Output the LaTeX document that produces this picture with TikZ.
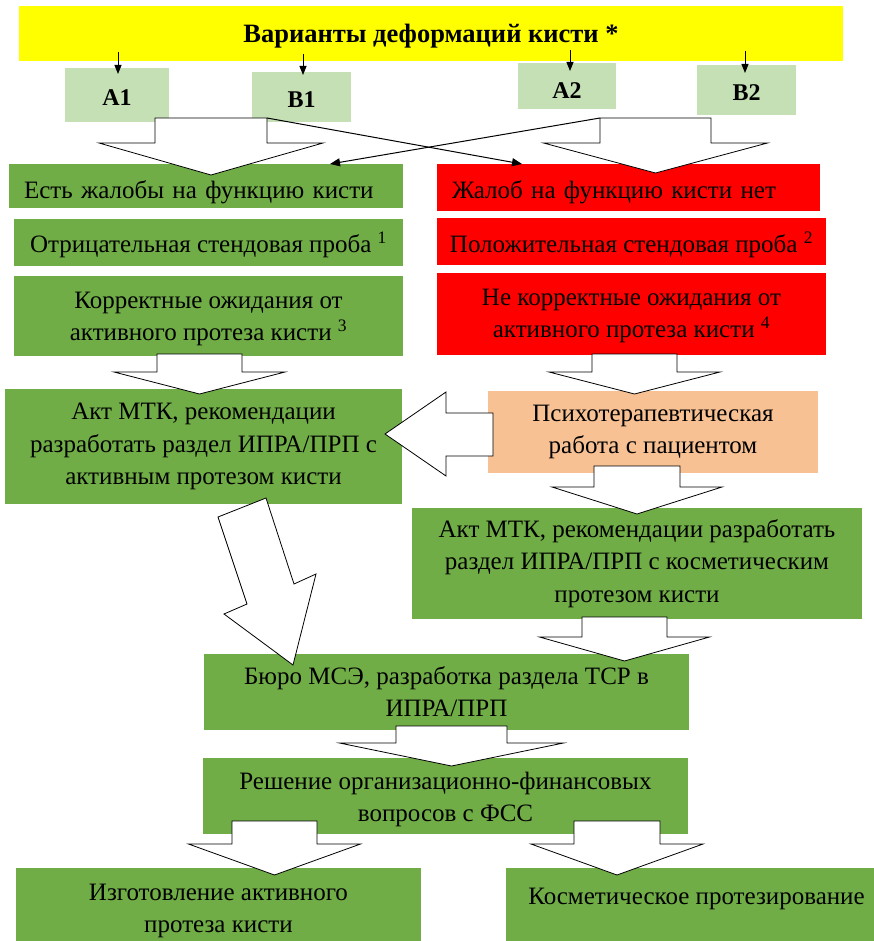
\documentclass[tikz,border=0pt]{standalone}
\usepackage{fontspec}
\setmainfont{Liberation Serif}
\usetikzlibrary{arrows.meta}
\definecolor{ogreen}{HTML}{70AD47}
\definecolor{lgreen}{HTML}{C5E0B4}
\definecolor{ored}{HTML}{FF0000}
\definecolor{peach}{HTML}{F8C193}
\definecolor{yel}{HTML}{FFFF00}
\newcommand{\BlkDown}[6]{\draw[blk] ({#1-#5},#2) -- ({#1+#5},#2) -- ({#1+#5},#3) -- ({#1+#6},#3) -- (#1,#4) -- ({#1-#6},#3) -- ({#1-#5},#3) -- cycle;}
\newcommand{\Lowr}[2]{\raisebox{-#1}[\height][\depth]{#2}}
\begin{document}
\begin{tikzpicture}[x=1pt,y=-1pt,
  box/.style={rectangle, inner sep=0pt, outer sep=0pt, align=center,
    font=\fontsize{25}{32.5}\selectfont},
  lbox/.style={box, align=left, inner xsep=15pt},
  sbox/.style={box, fill=lgreen, font=\bfseries\fontsize{24}{28}\selectfont},
  blk/.style={draw=black, fill=white, line width=0.8pt, line join=miter},
  conn/.style={draw=black, line width=1pt, -{Triangle[length=10pt,width=8pt]}},
  small/.style={draw=black, line width=1pt, -{Triangle[length=9pt,width=7pt]}}]
\useasboundingbox (0,0) rectangle (873,941);

% title banner
\node[box, fill=yel, minimum width=824, minimum height=55,
  font=\bfseries\fontsize{26.5}{30}\selectfont] (title) at (431,33.5) {\Lowr{3pt}{Варианты деформаций кисти *}};

% variant boxes
\node[sbox, minimum width=104, minimum height=54] (A1) at (117,95) {\Lowr{3pt}{A1}};
\node[sbox, minimum width=99, minimum height=50] (B1) at (301.5,97) {\Lowr{3pt}{B1}};
\node[sbox, minimum width=98, minimum height=46] (A2) at (567,86) {\Lowr{5pt}{A2}};
\node[sbox, minimum width=99, minimum height=50] (B2) at (746.5,90) {\Lowr{3pt}{B2}};

% left column
\node[lbox, fill=ogreen, text width=364, minimum height=44] (g1) at (206,186) {\Lowr{6pt}{Есть жалобы на функцию кисти}};
\node[box, fill=ogreen, minimum width=389, minimum height=47] (g2) at (208.5,242.5) {\Lowr{2pt}{Отрицательная стендовая проба \textsuperscript{1}}};
\node[box, fill=ogreen, minimum width=389, minimum height=80] (g3) at (208.5,316) {\Lowr{2pt}{\begin{tabular}{@{}c@{}}Корректные ожидания от\\активного протеза кисти \textsuperscript{3}\end{tabular}}};
\node[box, fill=ogreen, minimum width=397, minimum height=115] (akt1) at (203.5,446.5) {Акт МТК, рекомендации\\разработать раздел ИПРА/ПРП с\\активным протезом кисти};

% right column
\node[lbox, fill=ored, text width=353, minimum height=47] (r1) at (628.5,187.5) {\Lowr{5pt}{Жалоб на функцию кисти нет}};
\node[box, fill=ored, minimum width=389, minimum height=47] (r2) at (631.5,241.5) {\Lowr{3pt}{Положительная стендовая проба \textsuperscript{2}}};
\node[box, fill=ored, minimum width=389, minimum height=82] (r3) at (631.5,314) {\Lowr{1pt}{\begin{tabular}{@{}c@{}}Не корректные ожидания от\\активного протеза кисти \textsuperscript{4}\end{tabular}}};
\node[box, fill=peach, minimum width=330, minimum height=82] (psy) at (653,432) {Психотерапевтическая\\работа с пациентом};
\node[box, fill=ogreen, minimum width=450, minimum height=111] (akt2) at (637,563.5) {Акт МТК, рекомендации разработать\\раздел ИПРА/ПРП с косметическим\\протезом кисти};

% lower part
\node[box, fill=ogreen, minimum width=485, minimum height=76] (mse) at (446.5,692) {\Lowr{2pt}{\begin{tabular}{@{}c@{}}Бюро МСЭ, разработка раздела ТСР в\\ИПРА/ПРП\end{tabular}}};
\node[box, fill=ogreen, minimum width=485, minimum height=76] (fss) at (445.5,796) {\Lowr{3pt}{\begin{tabular}{@{}c@{}}Решение организационно-финансовых\\вопросов с ФСС\end{tabular}}};
\node[box, fill=ogreen, minimum width=405, minimum height=86] (act) at (218.5,911) {Изготовление активного\\протеза кисти};
\node[box, fill=ogreen, minimum width=381, minimum height=86] (cos) at (696.5,911) {\raisebox{12pt}[\height][\depth]{Косметическое протезирование}};

% block arrows
\BlkDown{211}{118}{143}{175}{56}{112}
\BlkDown{655.5}{118}{143}{173}{55.5}{112}
\BlkDown{199.5}{354}{372}{394}{42.5}{85.5}
\BlkDown{634.5}{354}{372}{394}{42.5}{85.5}
\BlkDown{637}{466}{487}{514}{43}{85}
\BlkDown{624.5}{617}{637}{661}{42.5}{85}
\BlkDown{451.5}{726}{743}{766}{55.5}{112}
\BlkDown{274.5}{821}{844}{875}{42.5}{86}
\BlkDown{617}{821}{844}{875}{43}{86}
\draw[blk] (385,434) -- (446,392) -- (446,413) -- (493,413) -- (493,456) -- (446,456) -- (446,476) -- cycle;
\draw[blk] (218,517) -- (266,498) -- (294,584) -- (316,574) -- (293,665) -- (224,614) -- (247,604) -- cycle;

% crossing connectors
\coordinate (c1s) at (267,118);
\coordinate (c1e) at (522,164);
\coordinate (c2s) at (600,118);
\coordinate (c2e) at (330,164);
\draw[conn] (c1s) -- (c1e);
\draw[conn] (c2s) -- (c2e);

% small arrows from the banner
\coordinate (sA1) at (118,52);
\coordinate (eA1) at (118,74);
\coordinate (sB1) at (303,54);
\coordinate (eB1) at (303,75);
\coordinate (sA2) at (570,50);
\coordinate (eA2) at (570,71);
\coordinate (sB2) at (745,51);
\coordinate (eB2) at (745,73);
\draw[small] (sA1) -- (eA1);
\draw[small] (sB1) -- (eB1);
\draw[small] (sA2) -- (eA2);
\draw[small] (sB2) -- (eB2);
\end{tikzpicture}
\end{document}
